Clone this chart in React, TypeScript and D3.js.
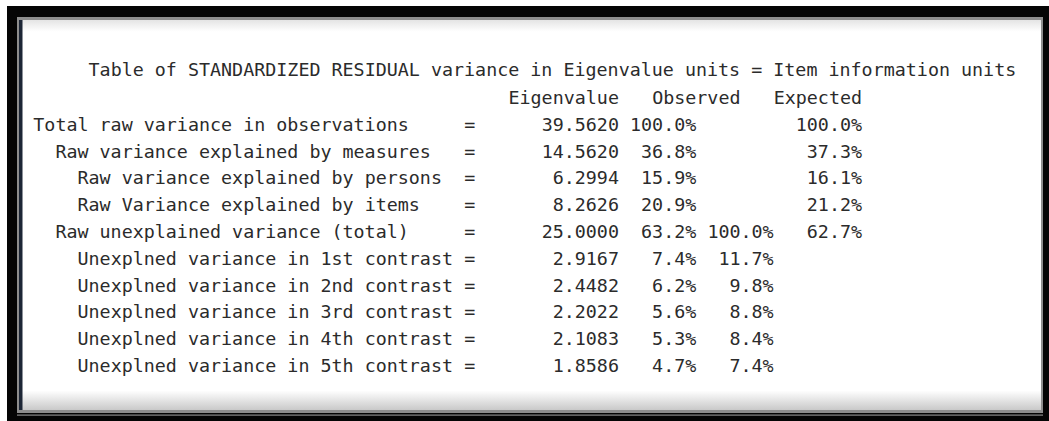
import React from "react";
import * as d3 from "d3";

const W = 1049;
const H = 421;

const title = "Table of STANDARDIZED RESIDUAL variance in Eigenvalue units = Item information units";
const headers = ["Eigenvalue", "Observed", "Expected"];

const labels = [
  "Total raw variance in observations",
  "Raw variance explained by measures",
  "Raw variance explained by persons",
  "Raw Variance explained by items",
  "Raw unexplained variance (total)",
  "Unexplned variance in 1st contrast",
  "Unexplned variance in 2nd contrast",
  "Unexplned variance in 3rd contrast",
  "Unexplned variance in 4th contrast",
  "Unexplned variance in 5th contrast",
];
const indent = [0, 1, 2, 2, 1, 2, 2, 2, 2, 2];
const eigenvalues = [39.562, 14.562, 6.2994, 8.2626, 25.0, 2.9167, 2.4482, 2.2022, 2.1083, 1.8586];
const observed = [100.0, 36.8, 15.9, 20.9, 63.2, 7.4, 6.2, 5.6, 5.3, 4.7];
const unexplained = [null, null, null, null, 100.0, 11.7, 9.8, 8.8, 8.4, 7.4];
const expected = [100.0, 37.3, 16.1, 21.2, 62.7, null, null, null, null, null];

// column layout of the fixed-width print-out (end column, exclusive)
const COLS = { eq: 39, eigen: 53, obs: 60, unexp: 67, exp: 75, hObs: 64 };

const fmtEig = d3.format(".4f");
const fmtPct = (v: number) => d3.format(".1f")(v) + "%";

export default function App() {
  const cw = 11.05;
  const col = d3.scaleLinear().domain([0, 1]).range([33.3, 33.3 + cw]);
  const row = d3.scaleLinear().domain([0, 1]).range([96, 96 + 26.8]);
  const base = (r: number) => row(r) + 8;
  const font = {
    fontFamily: "'DejaVu Sans Mono', 'Liberation Mono', monospace",
    fontSize: 18.35,
    fill: "#2b2b2b",
  };

  return (
    <svg width={W} height={H} style={{ position: "absolute", left: 0, top: 0, background: "#fff" }}>
      <defs>
        <linearGradient id="inner" x1="0" y1="0" x2="0" y2="1">
          <stop offset="0" stopColor="#e4e4e4" />
          <stop offset="0.03" stopColor="#ffffff" />
          <stop offset="0.95" stopColor="#ffffff" />
          <stop offset="1" stopColor="#c9c9c9" />
        </linearGradient>
      </defs>
      <rect x={7} y={6} width={W - 7} height={H - 6} fill="#050505" />
      <rect x={17} y={17} width={1026} height={396} fill="#8e8e8e" />
      <rect x={17} y={414.5} width={1026} height={1.2} fill="#8a8a8a" />
      <rect x={21} y={20} width={1020} height={390} fill="url(#inner)" />
      <rect x={19} y={20} width={3.5} height={390} fill="#1d2636" />

      <g style={font}>
        <text x={col(5)} y={row(-1) + 7}>{title}</text>
        <text x={col(COLS.eigen)} y={base(0)} textAnchor="end">{headers[0]}</text>
        <text x={col(COLS.hObs)} y={base(0)} textAnchor="end">{headers[1]}</text>
        <text x={col(COLS.exp)} y={base(0)} textAnchor="end">{headers[2]}</text>
        {labels.map((l, i) => (
          <g key={i}>
            <text x={col(indent[i] * 2)} y={base(i + 1)}>{l}</text>
            <text x={col(COLS.eq)} y={base(i + 1)}>=</text>
            <text x={col(COLS.eigen)} y={base(i + 1)} textAnchor="end">{fmtEig(eigenvalues[i])}</text>
            <text x={col(COLS.obs)} y={base(i + 1)} textAnchor="end">{fmtPct(observed[i])}</text>
            {unexplained[i] != null && (
              <text x={col(COLS.unexp)} y={base(i + 1)} textAnchor="end">{fmtPct(unexplained[i] as number)}</text>
            )}
            {expected[i] != null && (
              <text x={col(COLS.exp)} y={base(i + 1)} textAnchor="end">{fmtPct(expected[i] as number)}</text>
            )}
          </g>
        ))}
      </g>
    </svg>
  );
}
